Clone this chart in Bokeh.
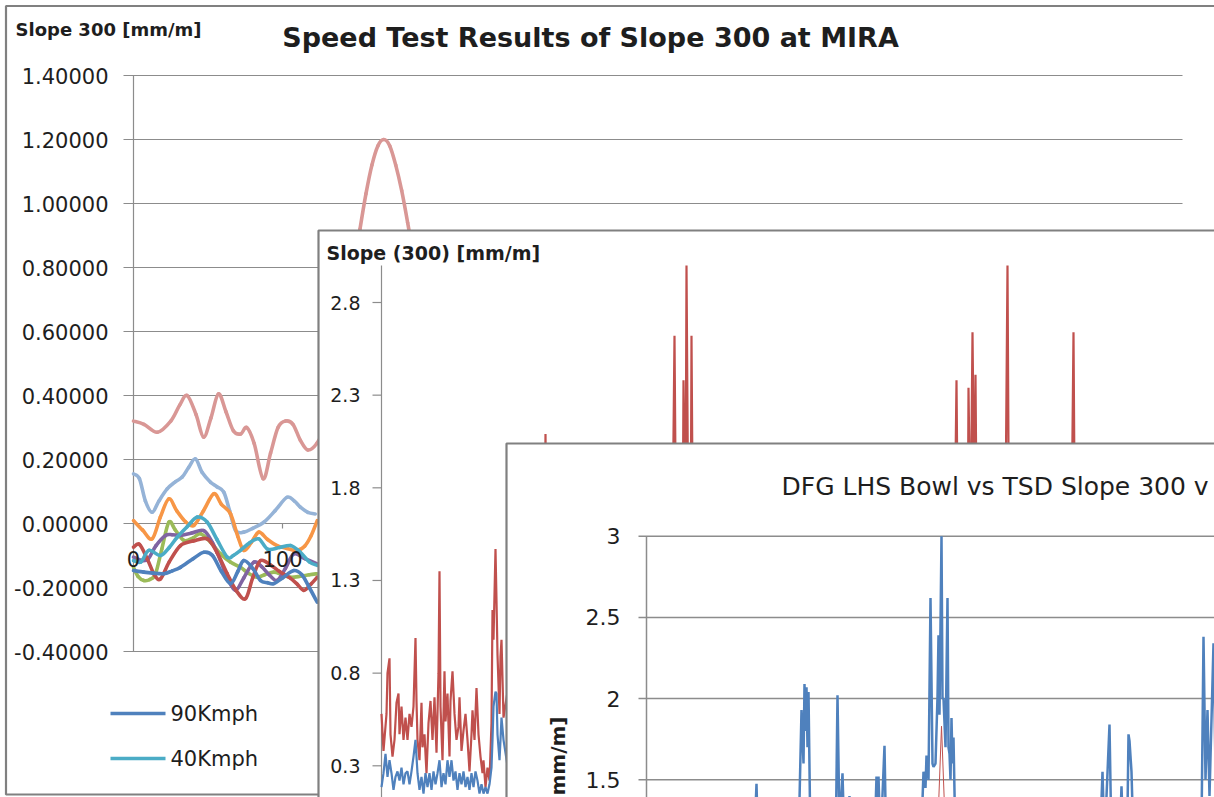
import math
from bokeh.plotting import figure
from bokeh.models import Range1d
from bokeh.embed import file_html
from bokeh.resources import INLINE
from bokeh.core.properties import value

# ------------------------------------------------------------------ data
# Back chart: "Speed Test Results of Slope 300 at MIRA"
p1_title = "Speed Test Results of Slope 300 at MIRA"
p1_ylabel = "Slope 300 [mm/m]"
p1_yticks = [1.4, 1.2, 1.0, 0.8, 0.6, 0.4, 0.2, 0.0, -0.2, -0.4]
p1_ytick_labels = ["1.40000", "1.20000", "1.00000", "0.80000", "0.60000",
                   "0.40000", "0.20000", "0.00000", "-0.20000", "-0.40000"]
p1_xticks = [0, 100]
p1_xtick_labels = ["0", "100"]
legend_names = ["90Kmph", "40Kmph"]

pink_x = [0, 7, 16, 25, 31, 36, 42, 47, 52, 57, 62, 67, 72, 76, 81, 87, 92, 97, 102, 107,
          112, 117, 123, 128, 133, 138, 143, 148, 152, 156, 160, 164, 168, 172, 176, 180,
          184, 188, 193, 198]
pink_y = [0.32, 0.31, 0.285, 0.32, 0.37, 0.40, 0.34, 0.27, 0.33, 0.405, 0.35, 0.29, 0.28,
          0.30, 0.25, 0.14, 0.22, 0.30, 0.32, 0.31, 0.26, 0.23, 0.25, 0.30, 0.40, 0.52,
          0.66, 0.80, 0.92, 1.03, 1.12, 1.18, 1.20, 1.18, 1.12, 1.04, 0.94, 0.83, 0.68, 0.55]

lblue_x = [0, 4, 8, 12.5, 17, 22.6, 28, 32.7, 37, 41.6, 46, 51.7, 56, 60.6, 64.5, 68.5, 74,
           80, 87.5, 95, 103, 108, 112, 117, 122]
lblue_y = [0.155, 0.14, 0.07, 0.035, 0.07, 0.108, 0.13, 0.145, 0.175, 0.202, 0.16, 0.129,
           0.115, 0.098, 0.04, -0.022, -0.027, -0.015, 0.004, 0.04, 0.082, 0.07, 0.051,
           0.035, 0.03]

orange_x = [0, 6, 12.5, 18, 23.7, 29, 35, 40.5, 47, 53.9, 59, 65.1, 70, 74, 79, 84.1, 90,
            96.4, 103, 109.8, 115, 119, 123.3]
orange_y = [0.009, -0.02, -0.048, 0.02, 0.077, 0.04, 0.005, -0.006, 0.04, 0.093, 0.06, 0.03,
            -0.04, -0.084, -0.06, -0.027, -0.05, -0.069, -0.078, -0.084, -0.07, -0.04, 0.009]

teal_x = [0, 5, 10.3, 18.1, 24, 29.3, 36, 42.8, 49.5, 56, 62.9, 67, 71.8, 78, 84.1, 90, 98,
          105.4, 112, 118, 123.3]
teal_y = [-0.116, -0.12, -0.084, -0.10, -0.075, -0.043, -0.01, 0.02, 0.004, -0.05, -0.105,
          -0.10, -0.084, -0.06, -0.048, -0.08, -0.075, -0.069, -0.09, -0.12, -0.131]

green_x = [0, 3, 6.9, 11, 14.8, 19, 23.7, 28, 33.8, 40, 45, 52, 58.4, 65, 71.8, 77, 83, 88,
           94.2, 100, 105.4, 112, 118, 123.3]
green_y = [-0.137, -0.165, -0.178, -0.175, -0.157, -0.08, 0.004, -0.02, -0.053, -0.045,
           -0.032, -0.06, -0.095, -0.12, -0.137, -0.155, -0.168, -0.16, -0.152, -0.16,
           -0.168, -0.165, -0.16, -0.157]

purple_x = [0, 5.8, 10, 15, 21.5, 26, 31.5, 39, 47.2, 53, 58.4, 63, 68.5, 74, 80.7, 86, 91,
            96.4, 102, 107.6, 115, 123.3]
purple_y = [-0.105, -0.116, -0.11, -0.07, -0.0375, -0.035, -0.0375, -0.03, -0.022, -0.06,
            -0.116, -0.17, -0.209, -0.17, -0.121, -0.135, -0.16, -0.178, -0.14, -0.095,
            -0.11, -0.126]

red_x = [0, 4, 9.2, 14, 18.1, 24, 31.5, 40, 49.5, 56, 62.9, 69, 75.2, 80, 85.2, 92, 98, 105,
         110, 114.3, 119, 123.3]
red_y = [-0.074, -0.065, -0.11, -0.16, -0.173, -0.12, -0.069, -0.055, -0.048, -0.09, -0.157,
         -0.21, -0.235, -0.17, -0.116, -0.13, -0.15, -0.17, -0.19, -0.209, -0.19, -0.168]

kmph90_x = [0, 6.9, 13, 20.3, 26, 31.5, 40, 47.2, 53, 59, 65.1, 70, 74, 80, 85.2, 90, 94.2,
            100, 107.6, 113, 118, 123.3]
kmph90_y = [-0.147, -0.152, -0.155, -0.157, -0.148, -0.137, -0.11, -0.09, -0.1, -0.15, -0.188,
            -0.15, -0.116, -0.14, -0.178, -0.185, -0.188, -0.17, -0.147, -0.16, -0.2, -0.246]

# Middle chart: Slope (300) [mm/m]
p2_ylabel = "Slope (300) [mm/m]"
p2_yticks = [2.8, 2.3, 1.8, 1.3, 0.8, 0.3]
p2_ytick_labels = ["2.8", "2.3", "1.8", "1.3", "0.8", "0.3"]

p2_red_x = [0, 2, 5, 6, 8, 9, 11, 13, 15, 17, 18, 20, 22, 24, 26, 28, 30, 32, 34, 35, 36, 38,
            40, 41, 43, 45, 47, 49, 51, 53, 55, 57, 58, 59, 61, 63, 64, 66, 68, 69, 71, 73,
            75, 77, 78, 80, 82, 84, 86, 88, 90, 91, 93, 95, 97, 99, 101, 102, 104, 106, 108,
            110, 111, 112, 114, 115, 116, 118, 119, 120, 122, 126,
            162, 164, 166, 290, 293, 295, 301, 302, 304, 305, 307, 309, 310, 312,
            572, 575, 577, 586, 587, 589, 591, 593, 594, 596, 623, 626, 628, 689, 692, 694, 830]
p2_red_y = [0.58, 0.38, 0.58, 0.80, 0.88, 0.47, 0.35, 0.44, 0.64, 0.69, 0.47, 0.62, 0.44, 0.56,
            0.44, 0.58, 0.51, 0.62, 0.99, 0.65, 0.44, 0.33, 0.64, 0.40, 0.47, 0.26, 0.53, 0.65,
            0.44, 0.67, 0.37, 0.80, 1.35, 0.62, 0.33, 0.81, 0.54, 0.69, 0.35, 0.65, 0.81, 0.58,
            0.44, 0.51, 0.67, 0.38, 0.49, 0.58, 0.44, 0.27, 0.47, 0.60, 0.44, 0.72, 0.47, 0.35,
            0.26, 0.33, 0.185, 0.29, 0.22, 0.53, 1.14, 0.98, 1.47, 1.19, 0.90, 0.58, 0.89, 0.98,
            0.56, 0.70,
            0.90, 2.09, 0.90, 1.00, 2.62, 1.20, 1.30, 2.38, 1.50, 3.00, 1.40, 1.20, 2.62, 1.00,
            1.00, 2.38, 1.10, 1.20, 2.34, 1.50, 2.64, 1.60, 2.41, 1.00, 1.00, 3.00, 1.00, 1.00,
            2.64, 1.00, 0.80]

p2_blue_x = [0, 2, 4, 6, 8, 10, 12, 14, 16, 18, 20, 22, 24, 26, 28, 30, 32, 34, 36, 38, 40,
             42, 44, 46, 48, 50, 52, 54, 56, 58, 60, 62, 64, 66, 68, 70, 72, 74, 76, 78, 80,
             82, 84, 86, 88, 90, 92, 94, 96, 98, 100, 102, 104, 106, 108, 110, 111, 112, 114,
             115, 116, 118, 119, 120, 122, 126]
p2_blue_y = [0.185, 0.26, 0.365, 0.24, 0.33, 0.26, 0.17, 0.24, 0.27, 0.22, 0.29, 0.20, 0.26,
             0.27, 0.20, 0.27, 0.35, 0.44, 0.26, 0.17, 0.24, 0.15, 0.26, 0.185, 0.26, 0.17,
             0.27, 0.20, 0.26, 0.33, 0.185, 0.26, 0.20, 0.33, 0.24, 0.33, 0.22, 0.27, 0.17,
             0.26, 0.20, 0.27, 0.185, 0.24, 0.17, 0.26, 0.185, 0.27, 0.22, 0.15, 0.20, 0.15,
             0.185, 0.15, 0.20, 0.29, 0.44, 0.62, 0.70, 0.69, 0.47, 0.33, 0.44, 0.56, 0.44, 0.30]

# Front chart: DFG LHS Bowl vs TSD Slope 300 v...
p3_title = "DFG LHS Bowl vs TSD Slope 300 v"
p3_ylabel = "mm/m]"
p3_yticks = [3.0, 2.5, 2.0, 1.5]
p3_ytick_labels = ["3", "2.5", "2", "1.5"]

p3_blue_x = [0, 107, 110, 112, 152, 155, 157, 158, 159, 160, 161, 162, 164, 189, 191, 193, 196,
             198, 203, 205, 228, 230, 231, 232, 234, 238, 240, 275, 277, 279, 280, 282, 284,
             286, 287, 289, 291, 292, 293, 295, 296, 297, 299, 301, 302, 303, 304, 305, 306,
             307, 309, 454, 456, 458, 463, 465, 473, 475, 477, 481, 482, 483, 485, 487, 555,
             557, 559, 561, 563, 567, 570]
p3_blue_y = [0.9, 1.0, 1.475, 1.0, 1.1, 1.93, 1.6, 2.09, 1.8, 2.07, 1.7, 2.04, 1.1, 1.0, 2.02,
             1.2, 1.54, 1.1, 1.40, 1.0, 1.1, 1.52, 1.3, 1.52, 1.1, 1.71, 1.0, 1.2, 1.55, 1.45,
             1.65, 1.5, 2.62, 1.6, 1.58, 1.6, 2.01, 2.39, 1.9, 3.0, 2.0, 2.0, 1.7, 2.62, 1.7,
             1.66, 1.5, 1.88, 1.6, 1.76, 1.1, 1.2, 1.55, 1.1, 1.84, 1.1, 1.1, 1.46, 1.1, 1.3,
             1.78, 1.74, 1.55, 1.1, 1.2, 2.38, 1.5, 1.93, 1.4, 2.34, 1.2]
p3_red_x = [290, 295, 300]
p3_red_y = [1.0, 1.83, 1.0]

# ------------------------------------------------------------------ layout
W, H = 1214, 797
X_LO, X_HI = 0, W          # page pixels covered by the canvas
Y_LO, Y_HI = 0, H

FONT = "DejaVu Sans"
GRID = "#8c8c8c"
BORDER = "#808080"
TXT = "#1e1e1e"
C_BLUE = "#4F81BD"
C_RED = "#C0504D"
C_GREEN = "#9BBB59"
C_PURPLE = "#8064A2"
C_TEAL = "#4BACC6"
C_ORANGE = "#F79646"
C_PINK = "#D99795"
C_LBLUE = "#95B3D7"


def lin_range(d0, p0, d1, p1, pa, pb):
    k = (d1 - d0) / (p1 - p0)
    return Range1d(start=d0 + (pa - p0) * k, end=d0 + (pb - p0) * k)


p = figure(width=W, height=H, x_range=Range1d(X_LO, X_HI), y_range=Range1d(Y_HI, Y_LO),
           toolbar_location=None, output_backend="svg", x_axis_location=None,
           y_axis_location=None, min_border=0, outline_line_color=None,
           background_fill_color="white", border_fill_color="white")
p.xgrid.visible = False
p.ygrid.visible = False

# panel scales (data -> page pixel)
P1_X = (0, 133, 100, 282)
P1_Y = (1.4, 75, -0.4, 651)
P2_X = (0, 381, 100, 481)
P2_Y = (2.8, 302, 0.3, 765.3)
P3_X = (0, 646, 100, 746)
P3_Y = (3.0, 535.7, 1.5, 779.3)
p.extra_x_ranges = {
    "p1": lin_range(*P1_X, X_LO, X_HI),
    "p2": lin_range(*P2_X, X_LO, X_HI),
    "p3": lin_range(*P3_X, X_LO, X_HI),
}
p.extra_y_ranges = {
    "p1": lin_range(*P1_Y, Y_HI, Y_LO),
    "p2": lin_range(*P2_Y, Y_HI, Y_LO),
    "p3": lin_range(*P3_Y, Y_HI, Y_LO),
}


def txt(x, y, s, size, bold=False, align="left", baseline="middle", xr="default",
        yr="default", x_off=0, y_off=0, angle=0.0, color=TXT):
    p.text(x=x, y=y, text=s, text_font=value(FONT), text_font_size=f"{size}px",
           text_font_style="bold" if bold else "normal", text_align=align,
           text_baseline=baseline, x_range_name=xr, y_range_name=yr, x_offset=x_off,
           y_offset=y_off, angle=angle, text_color=color)


def panel_box(left, top):
    p.quad(left=[left], right=[X_HI + 50], top=[top], bottom=[Y_HI + 50],
           fill_color="white", line_color=BORDER, line_width=2.2)


def smooth_line(xs, ys, color, width, xr, yr):
    """Excel-style smoothed line: cubic Bezier pieces through every data point."""
    n = len(xs)
    x0, y0, x1, y1, cx0, cy0, cx1, cy1 = ([] for _ in range(8))
    for i in range(n - 1):
        a = max(i - 1, 0)
        b = min(i + 2, n - 1)
        x0.append(xs[i]); y0.append(ys[i]); x1.append(xs[i + 1]); y1.append(ys[i + 1])
        cx0.append(xs[i] + (xs[i + 1] - xs[a]) / 6.0)
        cy0.append(ys[i] + (ys[i + 1] - ys[a]) / 6.0)
        cx1.append(xs[i + 1] - (xs[b] - xs[i]) / 6.0)
        cy1.append(ys[i + 1] - (ys[b] - ys[i]) / 6.0)
    p.bezier(x0=x0, y0=y0, x1=x1, y1=y1, cx0=cx0, cy0=cy0, cx1=cx1, cy1=cy1,
             line_color=color, line_width=width, line_cap="round",
             x_range_name=xr, y_range_name=yr)


# ================= panel 1 =================
p.quad(left=[5.5], right=[X_HI + 50], top=[5.5], bottom=[794], fill_color="white",
       line_color=BORDER, line_width=2.2)
p.segment(x0=123, x1=1182, y0=p1_yticks, y1=p1_yticks, y_range_name="p1",
          line_color=GRID, line_width=1.2)
p.segment(x0=[0], x1=[0], y0=[max(p1_yticks)], y1=[min(p1_yticks)],
          x_range_name="p1", y_range_name="p1", line_color=GRID, line_width=1.2)
txt([0] * len(p1_yticks), p1_yticks, p1_ytick_labels, 21, align="right",
    xr="p1", yr="p1", x_off=-25)
txt([15], [29], [p1_ylabel], 18, bold=True)
txt([590], [37], [p1_title], 27, bold=True, align="center")

series1 = [
    (pink_x, pink_y, C_PINK),
    (lblue_x, lblue_y, C_LBLUE),
    (orange_x, orange_y, C_ORANGE),
    (green_x, green_y, C_GREEN),
    (purple_x, purple_y, C_PURPLE),
    (red_x, red_y, C_RED),
    (teal_x, teal_y, C_TEAL),
    (kmph90_x, kmph90_y, C_BLUE),
]
for xs, ys, c in series1:
    smooth_line(xs, ys, c, 3.6, "p1", "p1")

tick_len = 5 * (P1_Y[0] - P1_Y[2]) / (P1_Y[3] - P1_Y[1])
p.segment(x0=p1_xticks, x1=p1_xticks, y0=[0.0] * len(p1_xticks),
          y1=[-tick_len] * len(p1_xticks), x_range_name="p1", y_range_name="p1",
          line_color=GRID, line_width=1.2)
txt(p1_xticks, [0.0] * len(p1_xticks), p1_xtick_labels, 21, align="center",
    xr="p1", yr="p1", y_off=35)

# legend
leg_y = [713, 758]
leg_c = [C_BLUE, C_TEAL]
p.segment(x0=110, x1=165, y0=leg_y, y1=leg_y, line_color=leg_c, line_width=3.5)
txt([170] * len(legend_names), leg_y, legend_names, 21)

# ================= panel 2 =================
panel_box(318, 230)
p.segment(x0=[0], x1=[0], y0=[3.0], y1=[-0.2], x_range_name="p2", y_range_name="p2",
          line_color=GRID, line_width=1.2)
p.segment(x0=372, x1=381, y0=p2_yticks, y1=p2_yticks, y_range_name="p2",
          line_color=GRID, line_width=1.2)
txt([0] * len(p2_yticks), p2_yticks, p2_ytick_labels, 19, align="right",
    xr="p2", yr="p2", x_off=-21)
txt([326], [252], [p2_ylabel], 19, bold=True)
p.line(p2_red_x, p2_red_y, x_range_name="p2", y_range_name="p2", line_color=C_RED,
       line_width=2.2)
p.line(p2_blue_x, p2_blue_y, x_range_name="p2", y_range_name="p2", line_color=C_BLUE,
       line_width=2.2)

# ================= panel 3 =================
panel_box(506, 443)
p.segment(x0=638, x1=X_HI + 50, y0=p3_yticks, y1=p3_yticks, y_range_name="p3",
          line_color=GRID, line_width=1.5)
p.segment(x0=[0], x1=[0], y0=[3.0], y1=[0.0], x_range_name="p3", y_range_name="p3",
          line_color=GRID, line_width=1.5)
txt([0] * len(p3_yticks), p3_yticks, p3_ytick_labels, 22, align="right",
    xr="p3", yr="p3", x_off=-26)
txt([781], [486], [p3_title], 25)
txt([557], [716], [p3_ylabel], 20, bold=True, align="right", angle=math.pi / 2)
p.line(p3_blue_x, p3_blue_y, x_range_name="p3", y_range_name="p3", line_color=C_BLUE,
       line_width=2.5)
p.line(p3_red_x, p3_red_y, x_range_name="p3", y_range_name="p3", line_color=C_RED,
       line_width=1.0)

open("out.html", "w").write(file_html(p, INLINE))
